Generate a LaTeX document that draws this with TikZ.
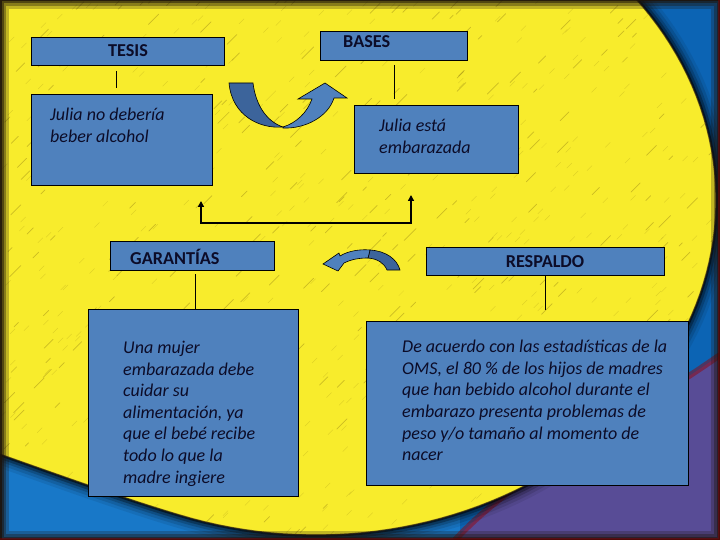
\documentclass[tikz,border=0pt]{standalone}
\usepackage{fontspec}
\setmainfont{Carlito}
\usetikzlibrary{arrows.meta,calc}
\definecolor{bgyellow}{RGB}{248,236,44}
\definecolor{streak}{RGB}{150,130,20}
\definecolor{boxblue}{RGB}{79,129,189}
\definecolor{arrdark}{RGB}{60,100,155}
\definecolor{topblue}{RGB}{12,100,180}
\definecolor{leftblue}{RGB}{24,120,200}
\definecolor{purp}{RGB}{88,76,150}
\definecolor{txt}{RGB}{12,12,40}
\def\yellowshape{(-12,-12) -- plot[domain=-41:110, samples=80] ({316+400*cos(\x)},{200+335*sin(\x)}) .. controls (119,497) and (40,468) .. (-12,450) -- cycle}
\tikzset{
  box/.style={draw=black, line width=0.8pt, fill=boxblue, anchor=north west, inner sep=0pt, outer sep=0pt},
  head/.style={font=\fontsize{18.2}{21}\selectfont\bfseries, text=txt, inner sep=0pt},
  body/.style={font=\fontsize{18}{21.6}\selectfont\itshape, text=txt, align=left, anchor=north west, inner sep=0pt},
  stem/.style={draw=black, line width=0.8pt},
  conn/.style={draw=black, line width=1.4pt, {Triangle[length=6pt,width=6pt]}-{Triangle[length=6pt,width=6pt]}},
  curvarrow/.style={draw=black, line width=0.6pt}
}
\begin{document}
\begin{tikzpicture}[x=1pt,y=-1pt]
\useasboundingbox (0,0) rectangle (720,540);
% ---------- background ----------
\fill[topblue] (0,0) rectangle (720,540);
\fill[leftblue] (0,300) rectangle (460,540);
\fill[purp] (720,355) .. controls (620,425) and (520,470) .. (455,540) -- (720,540) -- cycle;
\draw[red!60!black, line width=6pt, opacity=0.45] (720,355) .. controls (620,425) and (520,470) .. (455,540);
% shadow round the yellow disc
\foreach \w/\o in {26/0.08,20/0.12,14/0.18,9/0.3,4/0.55}{
  \draw[black, line width=\w pt, opacity=\o, line join=round] \yellowshape;
}
\fill[bgyellow] \yellowshape;
\draw[black!80!brown, line width=1.2pt, opacity=0.7] \yellowshape;
% texture streaks
\begin{scope}
\clip \yellowshape;
\pgfmathsetseed{11}
\foreach \i in {1,...,320}{
  \pgfmathsetmacro\sx{rnd*720}
  \pgfmathsetmacro\sy{rnd*540}
  \pgfmathsetmacro\sl{3+rnd*9}
  \draw[streak, line width=0.7pt, opacity=0.45, line cap=round] (\sx,\sy) -- ++(\sl,-\sl);
}
\pgfmathsetseed{5}
\foreach \i in {1,...,500}{
  \pgfmathsetmacro\sx{rnd*720}
  \pgfmathsetmacro\sy{rnd*540}
  \draw[streak, line width=0.35pt, opacity=0.3] (\sx,\sy) -- ++(5,-5);
}
\end{scope}
% frame
\foreach \w/\o in {18/0.25,12/0.35,7/0.5,3/0.8}{
  \draw[black!85!brown, line width=\w pt, opacity=\o] (0,0) rectangle (720,540);
}
\draw[red!50!black, line width=4pt, opacity=0.5] (720,0) -- (720,540) -- (0,540);
% ---------- boxes ----------
\node[box, minimum width=193pt, minimum height=28pt] (tesis) at (31,37) {};
\node[head] (tesislbl) at (128,51) {TESIS};
\node[box, minimum width=181pt, minimum height=91pt] (tesisbody) at (31,94) {};
\node[body] (tesistxt) at (50,108) {Julia no debería\\beber alcohol};

\node[box, minimum width=147pt, minimum height=29pt] (bases) at (320,31) {};
\node[head, anchor=west] (baseslbl) at (343,42) {BASES};
\node[box, minimum width=164pt, minimum height=68pt] (basesbody) at (354,105) {};
\node[body] (basestxt) at (379,119) {Julia está\\embarazada};

\node[box, minimum width=164pt, minimum height=29pt] (garant) at (110,241) {};
\node[head, anchor=west] (garantlbl) at (130,257) {GARANTÍAS};
\node[box, minimum width=210pt, minimum height=187pt] (garantbody) at (88,309) {};
\node[body] (garanttxt) at (123,341) {Una mujer\\embarazada debe\\cuidar su\\alimentación, ya\\que el bebé recibe\\todo lo que la\\madre ingiere};

\node[box, minimum width=238pt, minimum height=28pt] (resp) at (426,247) {};
\node[head] (resplbl) at (545,262) {RESPALDO};
\node[box, minimum width=322pt, minimum height=164pt] (respbody) at (366,321) {};
\node[body] (resptxt) at (402,340) {De acuerdo con las estadísticas de la\\OMS, el 80 \% de los hijos de madres\\que han bebido alcohol durante el\\embarazo presenta problemas de\\peso y/o tamaño al momento de\\nacer};
% ---------- stems ----------
\coordinate (tx) at (116,0);
\coordinate (bx) at (394,0);
\coordinate (gx) at (195,0);
\coordinate (rx) at (545,0);
\draw[stem, shorten <=6pt, shorten >=6pt] (tesis.south -| tx) -- (tesisbody.north -| tx);
\draw[stem, shorten <=5pt, shorten >=6pt] (bases.south -| bx) -- (basesbody.north -| bx);
\draw[stem, shorten <=4pt] (garant.south -| gx) -- (garantbody.north -| gx);
\draw[stem, shorten >=11pt] (resp.south -| rx) -- (respbody.north -| rx);
% ---------- connector ----------
\coordinate (jl) at (201,223);
\coordinate (jr) at (411,223);
\draw[conn] ($(tesisbody.south -| jl)+(0,16)$) -- (jl) -- (jr) -- ($(basesbody.south -| jr)+(0,22)$);
% ---------- curved arrow (top) ----------
\filldraw[curvarrow, fill=arrdark] (229,83) -- (253,83)
  .. controls (256,107) and (268,122) .. (283,127)
  .. controls (260,129) and (232,116) .. cycle;
\filldraw[curvarrow, fill=boxblue] (283,127)
  .. controls (296,123) and (307,113) .. (312,99) -- (298,99) -- (325,83) -- (347,98) -- (334,98)
  .. controls (328,117) and (305,129) .. (283,128) -- cycle;
% ---------- curved arrow (bottom) ----------
\filldraw[curvarrow, fill=arrdark] (370,250)
  .. controls (386,251) and (397,259) .. (400,270) -- (387,270)
  .. controls (384,263) and (378,259) .. (368,258) -- cycle;
\filldraw[curvarrow, fill=boxblue] (370,250)
  .. controls (360,249) and (348,251) .. (340,256) -- (339,253) -- (323,264) -- (338,271) -- (344,263)
  .. controls (352,259) and (360,258) .. (368,258) -- cycle;
\end{tikzpicture}
\end{document}
